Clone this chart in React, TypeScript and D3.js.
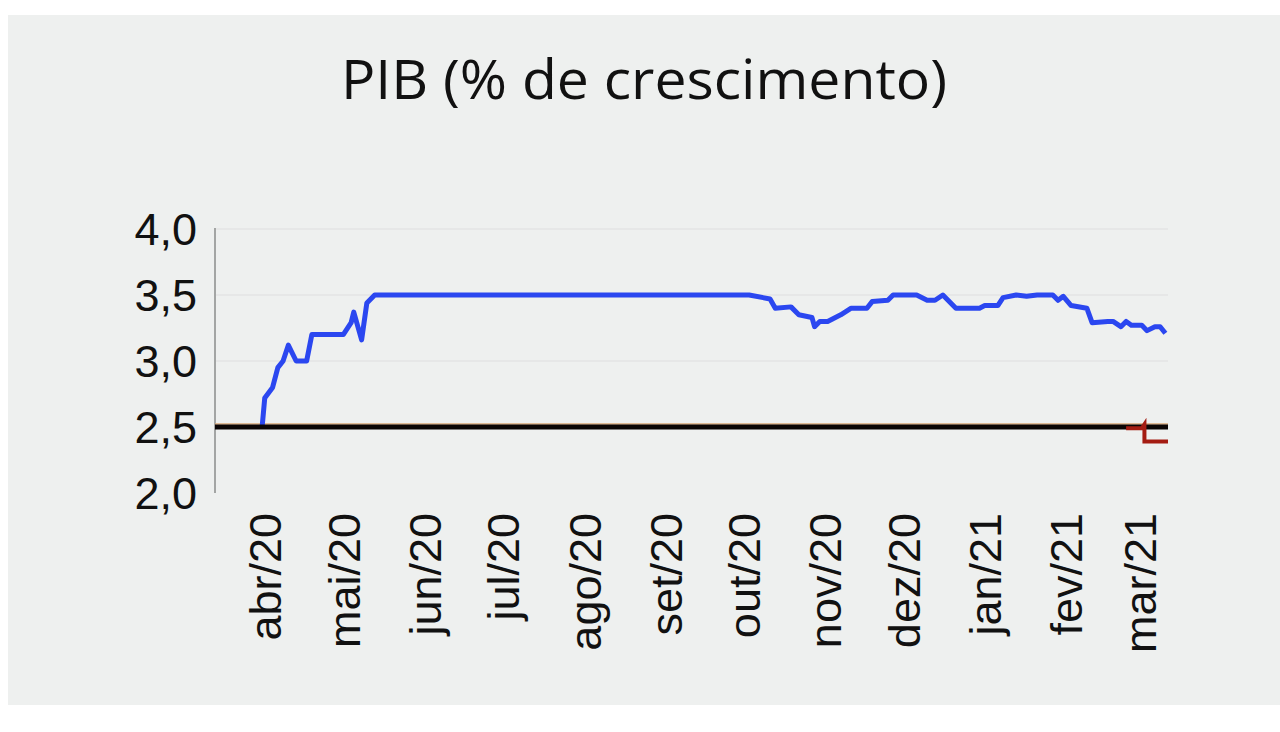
import React from "react";
import * as d3 from "d3";

const title = "PIB (% de crescimento)";

const yTicks = [2.0, 2.5, 3.0, 3.5, 4.0];

const monthStarts = [
  "2020-04-01", "2020-05-01", "2020-06-01", "2020-07-01", "2020-08-01", "2020-09-01",
  "2020-10-01", "2020-11-01", "2020-12-01", "2021-01-01", "2021-02-01", "2021-03-01",
];
const monthLabels = [
  "abr/20", "mai/20", "jun/20", "jul/20", "ago/20", "set/20",
  "out/20", "nov/20", "dez/20", "jan/21", "fev/21", "mar/21",
];

const blueDates = [
  "2020-03-29", "2020-03-30", "2020-04-02", "2020-04-04", "2020-04-06",
  "2020-04-08", "2020-04-11", "2020-04-15", "2020-04-17", "2020-04-29", "2020-05-02",
  "2020-05-03", "2020-05-06", "2020-05-08", "2020-05-11", "2020-10-01", "2020-10-09",
  "2020-10-11", "2020-10-17", "2020-10-20", "2020-10-25", "2020-10-26", "2020-10-28",
  "2020-10-31", "2020-11-05", "2020-11-09", "2020-11-15", "2020-11-17", "2020-11-23",
  "2020-11-25", "2020-12-04", "2020-12-08", "2020-12-11", "2020-12-14", "2020-12-19",
  "2020-12-28", "2020-12-30", "2021-01-04", "2021-01-06", "2021-01-11", "2021-01-15",
  "2021-01-19", "2021-01-25", "2021-01-27", "2021-01-29", "2021-02-01", "2021-02-07",
  "2021-02-09", "2021-02-15", "2021-02-17", "2021-02-20", "2021-02-22", "2021-02-24",
  "2021-02-28", "2021-03-02", "2021-03-05", "2021-03-07", "2021-03-09",
];
const blueValues = [
  2.5, 2.72, 2.8, 2.95, 3.0,
  3.12, 3.0, 3.0, 3.2, 3.2, 3.29,
  3.37, 3.16, 3.44, 3.5, 3.5, 3.47,
  3.4, 3.41, 3.35, 3.33, 3.26, 3.3,
  3.3, 3.35, 3.4, 3.4, 3.45, 3.46,
  3.5, 3.5, 3.46, 3.46, 3.5, 3.4,
  3.4, 3.42, 3.42, 3.48, 3.5, 3.49,
  3.5, 3.5, 3.46, 3.49, 3.42, 3.4,
  3.29, 3.3, 3.3, 3.26, 3.3, 3.27,
  3.27, 3.23, 3.26, 3.26, 3.21,
];

const blackDates = ["2020-03-11", "2021-03-10"];
const blackValues = [2.5, 2.5];

const redDates = ["2021-02-22", "2021-02-28", "2021-03-01", "2021-03-01", "2021-03-10"];
const redValues = [2.49, 2.49, 2.52, 2.39, 2.39];

const parse = d3.timeParse("%Y-%m-%d");

export default function App() {
  const W = 1280;
  const H = 732;
  const left = 215;
  const right = 1168;
  const top = 229;
  const bottom = 493;

  const x = d3
    .scaleTime()
    .domain([parse("2020-03-11")!, parse("2021-03-10")!])
    .range([left, right]);
  const y = d3.scaleLinear().domain([2, 4]).range([bottom, top]);

  const line = d3
    .line<[Date, number]>()
    .x((d) => x(d[0]))
    .y((d) => y(d[1]));

  const toPts = (ds: string[], vs: number[]) =>
    ds.map((d, i) => [parse(d)!, vs[i]] as [Date, number]);

  const blue = line(toPts(blueDates, blueValues)) || "";
  const black = line(toPts(blackDates, blackValues)) || "";
  const red = line(toPts(redDates, redValues)) || "";
  const tan = line(toPts(blackDates, blackValues.map((v) => v + 0.022))) || "";

  const font = "'Liberation Sans', Arial, sans-serif";

  return (
    <svg
      width={W}
      height={H}
      style={{ position: "absolute", left: 0, top: 0, background: "#ffffff" }}
    >
      <rect x={8} y={15} width={W - 8} height={690} fill="#eef0ef" />
      <text
        x={644}
        y={99}
        textAnchor="middle"
        fontFamily="'Open Sans', sans-serif"
        fontSize={54}
        fill="#111"
        textLength={606}
        lengthAdjust="spacingAndGlyphs"
      >
        {title}
      </text>

      {yTicks
        .filter((t) => t > 2)
        .map((t) => (
          <line
            key={"g" + t}
            x1={left}
            x2={right}
            y1={y(t)}
            y2={y(t)}
            stroke="#e3e5e4"
            strokeWidth={1.5}
          />
        ))}
      <line x1={left} x2={left} y1={top - 1} y2={bottom} stroke="#a3a5a4" strokeWidth={2} />

      {yTicks.map((t) => (
        <text
          key={"t" + t}
          x={197}
          y={y(t)}
          dy="0.36em"
          textAnchor="end"
          fontFamily={font}
          fontSize={45}
          fill="#111"
        >
          {d3.format(".1f")(t).replace(".", ",")}
        </text>
      ))}

      {monthStarts.map((m, i) => {
        const px = x(parse(m)!) - 5;
        return (
          <text
            key={m}
            transform={`translate(${px},513) rotate(-90)`}
            dy="0.36em"
            textAnchor="end"
            fontFamily={font}
            fontSize={45}
            fill="#111"
          >
            {monthLabels[i]}
          </text>
        );
      })}

      <path d={tan} fill="none" stroke="#d8a878" strokeWidth={1.5} />
      <path d={blue} fill="none" stroke="#2b47f0" strokeWidth={5} strokeLinejoin="round" />
      <path d={black} fill="none" stroke="#0a0505" strokeWidth={5} />
      <path d={red} fill="none" stroke="#a41c12" strokeWidth={4} />
    </svg>
  );
}
